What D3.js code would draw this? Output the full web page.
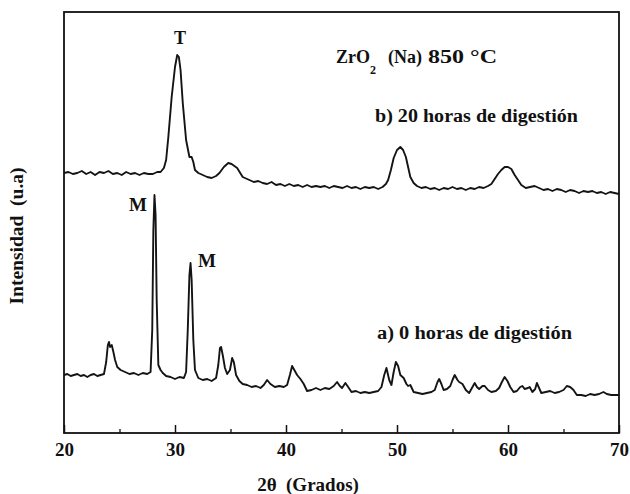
<!DOCTYPE html>
<html>
<head>
<meta charset="utf-8">
<script src="https://cdn.jsdelivr.net/npm/d3@7"></script>
<style>
  body { margin: 0; background: #fff; }
  svg { display: block; }
  text { font-family: "Liberation Serif", "DejaVu Serif", "Times New Roman", Times, serif; font-weight: bold; fill: #111; }
</style>
</head>
<body>
<svg id="chart"></svg>
<script>
// Size of chart svg
var width = 630;
var height = 494;
var margin = {top: 12, right: 11, bottom: 61, left: 64};

// x axis ticks (2 theta, degrees)
const majorTicks = [20, 30, 40, 50, 60, 70];
const minorTicks = [25, 35, 45, 55, 65];

// b) 20 horas de digestion (upper pattern)
const angleB = [20.0,20.4,20.8,21.2,21.6,22.0,22.4,22.8,23.2,23.6,24.0,24.4,24.8,25.2,25.6,26.0,26.4,26.8,27.2,27.6,
  28.0,28.4,28.7,29.0,29.2,29.4,29.7,30.0,30.2,30.35,30.5,30.7,31.0,31.3,31.5,31.65,31.8,32.1,32.5,32.9,33.3,33.7,
  34.0,34.4,34.8,35.1,35.6,36.1,36.7,37.1,37.5,37.9,38.3,38.7,39.1,39.5,39.9,40.3,40.7,41.1,41.5,41.9,42.3,42.7,
  43.1,43.5,43.9,44.3,44.7,45.1,45.5,45.9,46.3,46.7,47.1,47.5,47.9,48.3,48.7,49.0,49.2,49.45,49.7,50.0,50.3,50.55,
  50.8,51.0,51.2,51.5,51.8,52.2,52.6,53.0,53.4,53.8,54.2,54.6,55.0,55.4,55.8,56.2,56.6,57.0,57.4,57.8,58.2,58.5,
  58.8,59.1,59.4,59.7,60.0,60.3,60.6,60.9,61.2,61.6,62.0,62.4,62.8,63.2,63.6,64.0,64.4,64.8,65.2,65.6,66.0,66.4,
  66.8,67.2,67.6,68.0,68.4,68.8,69.2,69.6,70.0];
const intensityB = [260,261,259,260,262,259,261,258,261,260,262,259,260,258,261,259,260,258,260,259,
  259,261,261,265,273,296,336,366,378,376,363,330,293,276,276,271,263,260,258,256,255,257,
  260,266,270,269,265,256,253,251,252,250,249,251,248,249,247,249,247,248,246,248,246,247,
  246,247,245,247,246,245,247,245,246,244,246,245,246,244,246,249,253,263,275,283,286,283,
  276,266,256,250,247,245,246,244,245,243,245,244,246,244,245,243,245,244,246,245,247,249,
  254,259,263,266,266,264,258,253,248,245,246,247,245,243,244,242,244,243,241,243,242,240,
  242,241,242,240,241,239,241,240,239];

// a) 0 horas de digestion (lower pattern)
const angleA = [20.0,20.3,20.6,20.9,21.2,21.5,21.8,22.1,22.4,22.7,23.0,23.3,23.6,23.8,23.95,24.05,24.15,24.3,24.45,24.6,
  24.8,25.1,25.5,25.9,26.3,26.7,27.1,27.5,27.8,27.95,28.05,28.15,28.25,28.35,28.5,28.7,28.9,29.2,29.6,30.0,30.4,30.8,
  31.0,31.15,31.3,31.4,31.5,31.65,31.8,32.1,32.5,32.9,33.3,33.7,33.9,34.05,34.15,34.3,34.5,34.7,34.95,35.15,35.3,35.5,
  35.8,36.1,36.5,36.9,37.3,37.7,38.0,38.3,38.6,39.0,39.4,39.8,40.1,40.35,40.55,40.75,41.0,41.3,41.6,41.9,42.3,42.7,
  43.1,43.5,43.9,44.3,44.6,44.85,45.05,45.35,45.6,45.9,46.3,46.7,47.1,47.5,47.9,48.3,48.6,48.85,49.05,49.3,49.5,49.7,
  49.9,50.1,50.3,50.6,50.85,51.0,51.2,51.5,51.9,52.3,52.7,53.1,53.4,53.65,53.8,54.0,54.2,54.5,54.8,55.0,55.2,55.45,
  55.6,55.9,56.2,56.5,56.8,57.0,57.2,57.4,57.7,57.9,58.2,58.5,58.9,59.2,59.45,59.7,59.95,60.2,60.5,60.8,61.1,61.3,
  61.5,61.8,61.95,62.2,62.45,62.6,62.8,63.0,63.4,63.8,64.2,64.6,65.0,65.3,65.6,65.9,66.2,66.6,67.0,67.4,67.8,68.2,
  68.6,68.9,69.3,69.7,70.0];
const intensityA = [58,59,57,58,59,57,58,56,58,59,57,58,59,71,88,91,86,88,81,73,
  66,63,61,59,60,58,60,59,61,103,203,238,218,133,68,63,60,57,56,54,56,55,
  61,103,158,170,153,93,63,55,53,54,52,55,68,85,86,78,65,59,63,75,71,58,
  52,49,48,46,47,45,48,53,49,46,47,46,48,58,67,63,58,54,49,42,43,45,
  43,45,44,47,51,47,45,50,46,41,42,40,41,40,41,42,46,58,65,53,48,61,
  71,67,58,55,49,47,48,41,40,39,40,41,43,51,54,49,43,44,47,53,58,53,
  51,49,43,40,46,50,46,44,47,47,43,41,42,45,51,56,52,46,41,42,46,47,
  44,45,46,41,44,50,45,40,41,42,40,41,43,47,46,43,38,38,37,39,38,39,
  41,39,38,38,38];

const svg = d3.select("#chart")
    .attr("width", width)
    .attr("height", height);

const x = d3.scaleLinear()
    .domain([20, 70])
    .range([margin.left, width - margin.right]);

const y = d3.scaleLinear()
    .domain([0, 421])
    .range([height - margin.bottom, margin.top]);

var line = d3.line()
    .x(d => x(d[0]))
    .y(d => y(d[1]));

// patterns
[[angleB, intensityB], [angleA, intensityA]].forEach(function(s){
    svg.append("path")
        .datum(d3.zip(s[0], s[1]))
        .attr("fill", "none")
        .attr("stroke", "#141414")
        .attr("stroke-width", 1.9)
        .attr("stroke-linejoin", "round")
        .attr("d", line);
});

// frame
svg.append("rect")
    .attr("x", x(20))
    .attr("y", y(421))
    .attr("width", x(70) - x(20))
    .attr("height", y(0) - y(421))
    .attr("fill", "none")
    .attr("stroke", "#111")
    .attr("stroke-width", 1.8);

// bottom axis, ticks pointing inwards
const xAxis = svg.append("g")
    .attr("transform", `translate(0,${y(0)})`)
    .call(d3.axisBottom(x).tickValues(majorTicks).tickSize(-8).tickPadding(10).tickFormat(d3.format("d")));
xAxis.select(".domain").remove();
xAxis.selectAll("line").attr("stroke", "#111").attr("stroke-width", 1.5);
xAxis.selectAll("text")
    .attr("font-size", 19)
    .attr("fill", "#111");

const xMinor = svg.append("g")
    .attr("transform", `translate(0,${y(0)})`)
    .call(d3.axisBottom(x).tickValues(minorTicks).tickSize(-4).tickFormat(""));
xMinor.select(".domain").remove();
xMinor.selectAll("line").attr("stroke", "#111").attr("stroke-width", 1.3);

// axis titles
svg.append("text")
    .attr("x", 308)
    .attr("y", 491)
    .attr("text-anchor", "middle")
    .attr("font-size", 19)
    .attr("xml:space", "preserve")
    .text("2θ  (Grados)");

svg.append("text")
    .attr("transform", "translate(23,236) rotate(-90)")
    .attr("text-anchor", "middle")
    .attr("font-size", 18)
    .attr("textLength", 137)
    .attr("lengthAdjust", "spacingAndGlyphs")
    .attr("xml:space", "preserve")
    .text("Intensidad  (u.a)");

// phase labels
svg.append("text").attr("x", 180).attr("y", 44).attr("text-anchor", "middle").attr("font-size", 18).text("T");
svg.append("text").attr("x", 138).attr("y", 211).attr("text-anchor", "middle").attr("font-size", 19).text("M");
svg.append("text").attr("x", 207).attr("y", 267).attr("text-anchor", "middle").attr("font-size", 19).text("M");

// sample title
const title = svg.append("text").attr("y", 63).attr("font-size", 18);
title.append("tspan").attr("x", 336).text("ZrO");
title.append("tspan").attr("dy", 11).attr("font-size", 12).text("2");
title.append("tspan").attr("x", 388).attr("dy", -11).text("(Na)");
title.append("tspan").attr("x", 428).attr("textLength", 69).attr("lengthAdjust", "spacingAndGlyphs").text("850 °C");

svg.append("text")
    .attr("x", 375)
    .attr("y", 122)
    .attr("font-size", 18)
    .attr("textLength", 203)
    .attr("lengthAdjust", "spacingAndGlyphs")
    .text("b) 20 horas de digestión");

svg.append("text")
    .attr("x", 377)
    .attr("y", 339)
    .attr("font-size", 18)
    .attr("textLength", 195)
    .attr("lengthAdjust", "spacingAndGlyphs")
    .text("a) 0 horas de digestión");
</script>
</body>
</html>
